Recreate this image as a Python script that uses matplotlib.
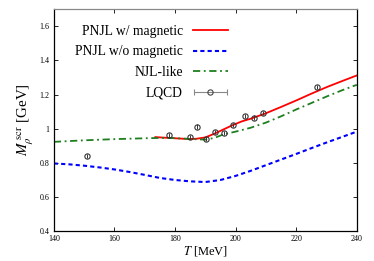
import numpy as np
import matplotlib
matplotlib.use("Agg")
import matplotlib.pyplot as plt
from matplotlib.legend_handler import HandlerErrorbar
from matplotlib.ticker import FormatStrFormatter

plt.rcParams['font.family'] = ['Liberation Serif', 'DejaVu Serif']
plt.rcParams['mathtext.fontset'] = 'stix'

# PNJL with magnetic field
T_mag = [173.5, 177, 180, 183, 185, 187, 190, 193, 196, 199, 202, 205, 210, 215, 220, 225, 230, 235, 240]
M_mag = [0.950, 0.946, 0.943, 0.940, 0.939, 0.940, 0.948, 0.970, 0.995, 1.020, 1.042, 1.058, 1.090, 1.127, 1.165, 1.205, 1.243, 1.278, 1.312]

# PNJL without magnetic field
T_nomag = [140, 145, 150, 155, 160, 165, 170, 175, 180, 185, 190, 195, 200, 205, 210, 215, 220, 225, 230, 235, 240]
M_nomag = [0.795, 0.790, 0.782, 0.772, 0.760, 0.745, 0.728, 0.710, 0.698, 0.690, 0.686, 0.698, 0.722, 0.752, 0.785, 0.818, 0.851, 0.885, 0.918, 0.950, 0.982]

# NJL-like
T_njl = [140, 150, 160, 170, 175, 180, 185, 190, 193, 196, 200, 205, 210, 215, 220, 225, 230, 235, 240]
M_njl = [0.922, 0.931, 0.938, 0.943, 0.945, 0.944, 0.939, 0.935, 0.945, 0.966, 0.982, 1.005, 1.035, 1.072, 1.112, 1.150, 1.188, 1.224, 1.257]

# lattice QCD points
T_lqcd = [151.1, 178.1, 185.1, 187.1, 190.2, 193.1, 196.1, 199.2, 203.1, 206.1, 209.1, 227.0]
M_lqcd = [0.841, 0.961, 0.949, 1.012, 0.938, 0.982, 0.973, 1.020, 1.076, 1.065, 1.094, 1.244]
err_lqcd = [0.012] * len(T_lqcd)

fig = plt.figure(figsize=(3.74, 2.61), dpi=100)
ax = fig.add_axes([0.144, 0.116, 0.81, 0.848])

ax.plot(T_mag, M_mag, color='red', lw=1.3, label='PNJL w/ magnetic')
ax.plot(T_nomag, M_nomag, color='blue', lw=1.5, dashes=(2, 1.5), label='PNJL w/o magnetic')
ax.plot(T_njl, M_njl, color='#1f7f1f', lw=1.3, dashes=(4, 2, 1, 2), label='NJL-like')
ax.errorbar(T_lqcd, M_lqcd, yerr=err_lqcd, fmt='o', ms=3.8, mfc='none', mec='#333333',
            mew=0.8, ecolor='#333333', elinewidth=0.7, capsize=0)

# proxy for the legend entry (horizontal error bar)
proxy = ax.errorbar([np.nan], [np.nan], xerr=[1], fmt='o', ms=3.8, mfc='none', mec='#444444',
                    mew=0.8, ecolor='#888888', elinewidth=0.8, capsize=2.5, label='LQCD')

ax.set_xlim(140, 240)
ax.set_ylim(0.4, 1.7)
ax.set_xticks([140, 160, 180, 200, 220, 240])
ax.set_yticks([0.4, 0.6, 0.8, 1.0, 1.2, 1.4, 1.6])
ax.yaxis.set_major_formatter(FormatStrFormatter('%g'))
ax.tick_params(direction='in', top=True, right=True, length=3.2, width=0.6, labelsize=5.8, pad=3)
for s in ax.spines.values():
    s.set_linewidth(0.9)
ax.spines['top'].set_color('#888888')

ax.set_xlabel(r'$T$ [MeV]', fontsize=9, labelpad=1)
ax.set_ylabel(r'$M_{\rho}^{\ \rm scr}$ [GeV]', fontsize=10.8, labelpad=3)

ax.legend(loc='upper right', frameon=False, markerfirst=False, fontsize=9.8,
          handlelength=2.6, handletextpad=0.7, labelspacing=0.55,
          borderaxespad=0.3, bbox_to_anchor=(0.606, 0.973),
          handler_map={type(proxy): HandlerErrorbar(xerr_size=1.2)})

fig.savefig('out.png', dpi=100)
